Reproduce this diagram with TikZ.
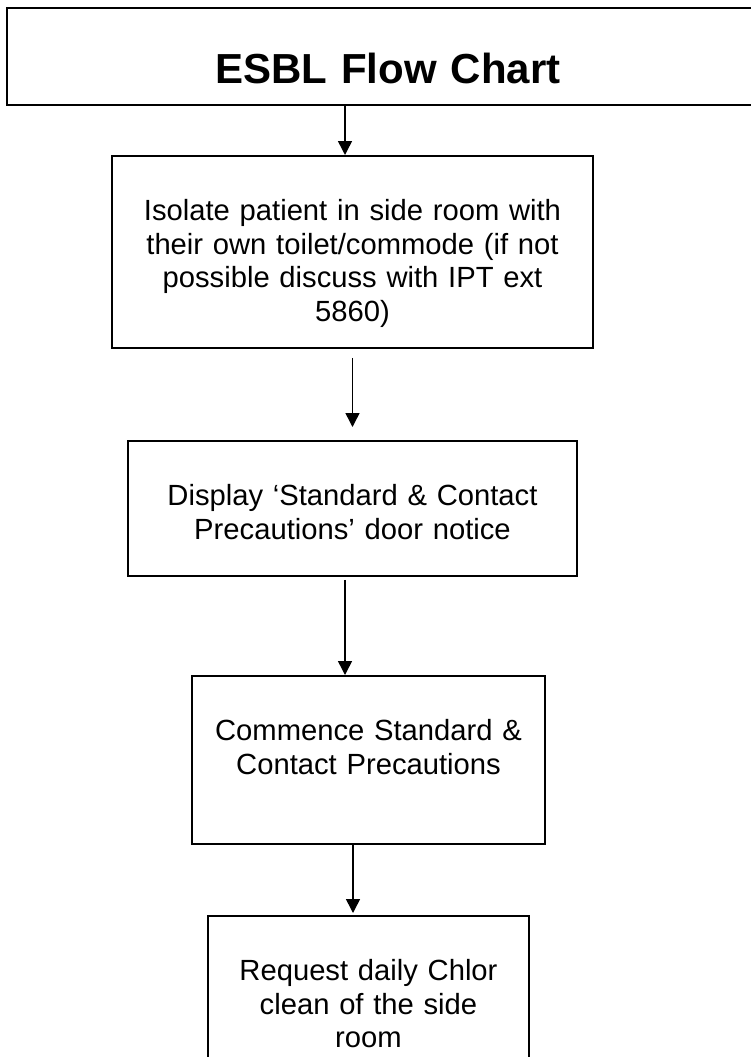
\documentclass[tikz,border=0pt]{standalone}
\usepackage{fontspec}
\setmainfont{Liberation Sans}
\usepackage{tikz}
\usetikzlibrary{arrows.meta}

\begin{document}
\begin{tikzpicture}[x=1pt, y=-1pt,
    flowbox/.style={draw, line width=1.8pt, inner sep=0pt, anchor=north, align=center,
        text height=65pt, font=\fontsize{29.2}{33.5}\selectfont},
    titlebox/.style={draw, line width=2.4pt, inner sep=0pt, anchor=north, align=center,
        font=\bfseries\fontsize{42}{48}\selectfont},
    flowarrow/.style={line width=1.5pt, -{Triangle[length=14pt, width=14pt]}}]
    \useasboundingbox (0,0) rectangle (751,1057);
    \clip (0,0) rectangle (751,1057);
    \node[titlebox, text width=762pt, text height=75pt, text depth=22pt] (title) at (388,7) {ESBL Flow Chart};
    \node[flowbox, text width=481pt, text depth=127pt] (isolate) at (352.5,155)
        {Isolate patient in side room with\\their own toilet/commode (if not\\possible discuss with IPT ext\\5860)};
    \node[flowbox, text width=449pt, text depth=70pt] (display) at (352.5,440)
        {Display ‘Standard \& Contact\\Precautions’ door notice};
    \node[flowbox, text width=353pt, text depth=103pt] (commence) at (368.5,675)
        {Commence Standard \&\\Contact Precautions};
    \node[flowbox, text width=321pt, text depth=130pt] (request) at (368.5,915)
        {Request daily Chlor\\clean of the side\\room};
    \draw[flowarrow] ([xshift=-7.5pt]isolate.north |- title.south) -- ([xshift=-7.5pt]isolate.north);
    \draw[flowarrow, shorten <=9pt, shorten >=13pt] (isolate.south) -- (display.north);
    \draw[flowarrow, shorten <=3pt] ([xshift=-7.5pt]display.south) -- ([xshift=-7.5pt]display.south |- commence.north);
    \draw[flowarrow, shorten >=2pt] ([xshift=-15.5pt]commence.south) -- ([xshift=-15.5pt]commence.south |- request.north);
\end{tikzpicture}
\end{document}
